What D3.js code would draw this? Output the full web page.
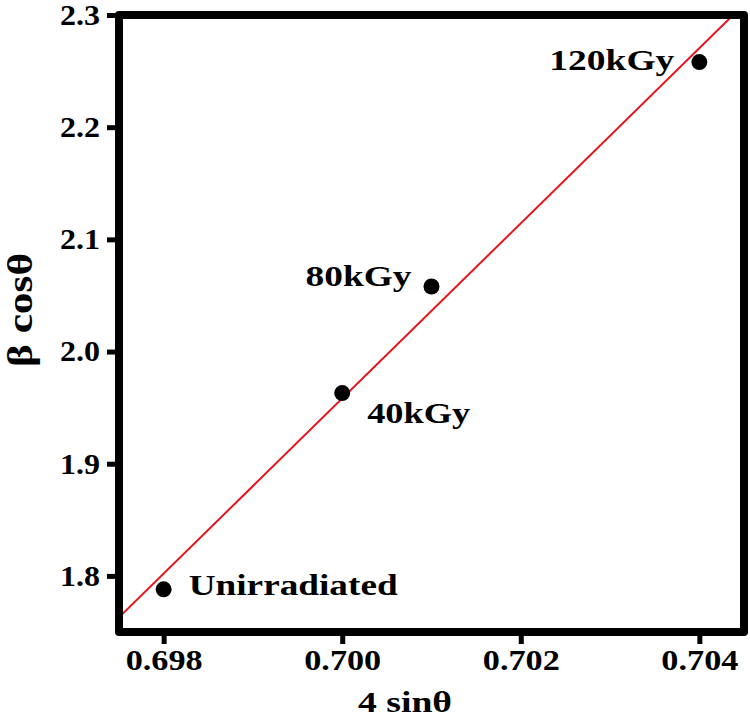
<!DOCTYPE html>
<html>
<head>
<meta charset="utf-8">
<script src="https://cdn.jsdelivr.net/npm/d3@7"></script>
<style>
  body { margin: 0; background: #fff; }
  svg { display: block; font-family: "Liberation Serif", "DejaVu Serif", serif; font-weight: bold; }
</style>
</head>
<body>
<svg width="750" height="719"></svg>
<script>
// data
const names = ["Unirradiated", "40kGy", "80kGy", "120kGy"];
const sinValues = [0.698, 0.700, 0.701, 0.704];   // 4 sinθ
const cosValues = [1.788, 1.963, 2.058, 2.258];   // β cosθ
const xTicks = [0.698, 0.700, 0.702, 0.704];
const yTicks = [1.8, 1.9, 2.0, 2.1, 2.2, 2.3];

// label placement relative to each point (layout, not data)
const labelLayout = {
  "Unirradiated": {dx: 25, dy: 6, anchor: "start", len: 209},
  "40kGy": {dx: 25, dy: 30, anchor: "start", len: 103},
  "80kGy": {dx: -20, dy: 0, anchor: "end", len: 106},
  "120kGy": {dx: -25, dy: 8, anchor: "end", len: 125}
};

const margin = {top: 15, right: 6, bottom: 87, left: 119};
const svg = d3.select("svg");
const width = +svg.attr("width") - margin.left - margin.right;
const height = +svg.attr("height") - margin.top - margin.bottom;

const vis = svg.append("g")
  .attr("transform", `translate(${margin.left},${margin.top})`);

const x = d3.scaleLinear().domain([0.6975, 0.7045]).range([0, width]);
const y = d3.scaleLinear().domain([1.75, 2.3]).range([height, 0]);

const points = names.map((n, i) => ({name: n, x: sinValues[i], y: cosValues[i]}));

// least-squares fit line
const mx = d3.mean(sinValues), my = d3.mean(cosValues);
const slope = d3.sum(points, p => (p.x - mx) * (p.y - my)) / d3.sum(points, p => (p.x - mx) ** 2);
const fit = v => my + slope * (v - mx);

vis.append("clipPath").attr("id", "plot-clip")
  .append("rect").attr("width", width).attr("height", height);

const xd = x.domain();
vis.append("line")
  .attr("clip-path", "url(#plot-clip)")
  .attr("x1", x(xd[0])).attr("y1", y(fit(xd[0])))
  .attr("x2", x(xd[1])).attr("y2", y(fit(xd[1])))
  .attr("stroke", "#e8141c")
  .attr("stroke-width", 2);

// axes
const xAxis = vis.append("g")
  .attr("transform", `translate(0,${height})`)
  .call(d3.axisBottom(x).tickValues(xTicks).tickFormat(d3.format(".3f")).tickSize(12).tickSizeOuter(0));
const yAxis = vis.append("g")
  .call(d3.axisLeft(y).tickValues(yTicks).tickFormat(d3.format(".1f")).tickSize(12).tickSizeOuter(0));

[xAxis, yAxis].forEach(a => {
  a.select(".domain").remove();
  a.selectAll(".tick line").attr("stroke", "#000").attr("stroke-width", 5);
  a.selectAll("text").attr("fill", "#000").style("font-size", "29px")
    .style("font-family", "Liberation Serif, serif").style("font-weight", "bold");
});
xAxis.selectAll("text").attr("y", 38).attr("dy", 0)
  .attr("textLength", 77).attr("lengthAdjust", "spacingAndGlyphs");
yAxis.selectAll("text").attr("x", -19).attr("dy", "0.32em")
  .attr("textLength", 40).attr("lengthAdjust", "spacingAndGlyphs");

// frame
vis.append("rect")
  .attr("width", width).attr("height", height)
  .attr("fill", "none").attr("stroke", "#000").attr("stroke-width", 8)
  .attr("stroke-linejoin", "round");

// points
vis.selectAll("circle.pt")
  .data(points)
  .enter()
  .append("circle")
  .attr("class", "pt")
  .attr("cx", d => x(d.x))
  .attr("cy", d => y(d.y))
  .attr("r", 8)
  .attr("fill", "#000");

vis.selectAll("text.lbl")
  .data(points)
  .enter()
  .append("text")
  .attr("class", "lbl")
  .attr("x", d => x(d.x) + labelLayout[d.name].dx)
  .attr("y", d => y(d.y) + labelLayout[d.name].dy)
  .attr("text-anchor", d => labelLayout[d.name].anchor)
  .attr("textLength", d => labelLayout[d.name].len)
  .attr("lengthAdjust", "spacingAndGlyphs")
  .style("font-size", "29px")
  .text(d => d.name);

// axis titles
svg.append("text")
  .attr("x", 405).attr("y", 712)
  .attr("text-anchor", "middle")
  .attr("textLength", 94).attr("lengthAdjust", "spacingAndGlyphs")
  .style("font-size", "30px")
  .text("4 sinθ");

svg.append("text")
  .attr("transform", "translate(32,310) rotate(-90)")
  .attr("text-anchor", "middle")
  .attr("textLength", 114).attr("lengthAdjust", "spacingAndGlyphs")
  .style("font-size", "36px")
  .text("β cosθ");
</script>
</body>
</html>
